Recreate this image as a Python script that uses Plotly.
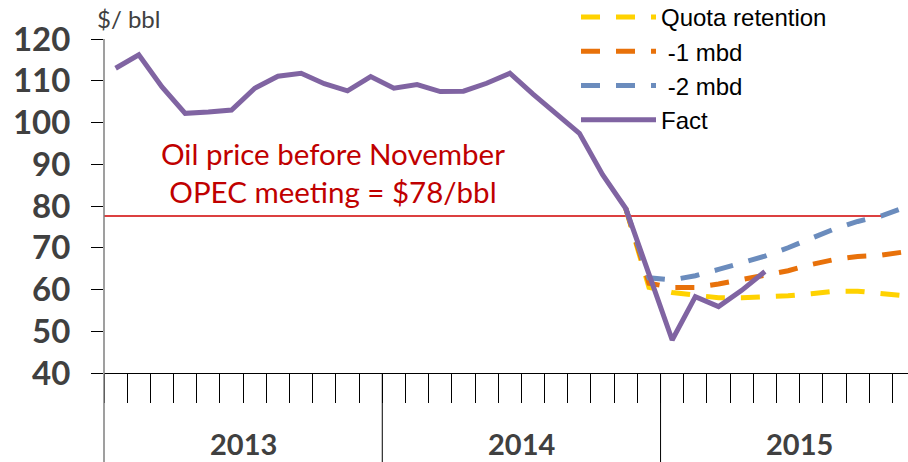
import plotly.graph_objects as go

# ---- data ----
years = ["2013", "2014", "2015"]
fact_months = list(range(29))           # Jan 2013 .. May 2015 (month index)
fact = [113.0, 116.2, 108.5, 102.2, 102.5, 103.0, 108.2, 111.1, 111.8, 109.3,
        107.6, 111.0, 108.2, 109.1, 107.4, 107.5, 109.4, 111.8, 106.8, 102.0,
        97.4, 87.5, 79.4, 63.7, 47.9, 58.3, 55.9, 59.8, 64.3]

fc_months = list(range(22, 35))         # Nov 2014 .. Nov 2015
quota = [79.4, 60.5, 59.3, 58.5, 58.0, 58.0, 58.2, 58.5, 59.0, 59.6, 59.6, 59.2, 58.5]
minus1 = [79.4, 61.5, 60.5, 60.5, 61.3, 62.3, 63.2, 64.5, 66.0, 67.2, 67.9, 68.2, 69.0]
minus2 = [79.4, 62.8, 62.3, 63.3, 64.8, 66.3, 68.0, 70.0, 72.3, 74.5, 76.3, 77.6, 79.6]

pre_meeting_price = 77.6
pre_meeting_span = [0, 33.7]

y_ticks = [40, 50, 60, 70, 80, 90, 100, 110, 120]
x_range = [0, 34.67]

def centers(ms):
    return [m + 0.5 for m in ms]

W, H = 908, 462
ML, MR, MT, MB = 104, 0, 39, 89
plot_h = H - MT - MB
plot_w = W - ML - MR

def px_x(px):
    return (px - ML) / plot_w

def px_y(py):
    return (H - MB - py) / plot_h

fig = go.Figure()

fig.add_trace(go.Scatter(x=pre_meeting_span, y=[pre_meeting_price] * 2, mode="lines",
                         line=dict(color="#D00000", width=1.6), showlegend=False,
                         hoverinfo="skip"))

dash = "19px,16px"
for name, vals, col in [("Quota retention", quota, "#FFD200"),
                        (" -1 mbd", minus1, "#E8710A"),
                        (" -2 mbd", minus2, "#6B8CBD")]:
    fig.add_trace(go.Scatter(x=centers(fc_months), y=vals, mode="lines", name=name,
                             legendgroup=name,
                             line=dict(color=col, width=5, dash=dash)))

fig.add_trace(go.Scatter(x=centers(fact_months), y=fact, mode="lines", name="Fact",
                         legendgroup="Fact",
                         line=dict(color="#8064A2", width=5)))

shapes = []
below = px_y(H)
shapes.append(dict(type="line", xref="paper", yref="paper", x0=0, x1=0, y0=below, y1=1,
                   line=dict(color="#7F7F7F", width=1.5)))
for k in range(1, len(years)):
    shapes.append(dict(type="line", xref="x", yref="paper", x0=12 * k, x1=12 * k,
                       y0=below, y1=0, line=dict(color="black", width=1)))

annotations = []
for k, yr in enumerate(years):
    annotations.append(dict(x=12 * k + 6, y=px_y(443), xref="x", yref="paper",
                            text=yr, showarrow=False, yanchor="middle",
                            font=dict(family="Lato", size=29, color="#404040", weight="bold")))
annotations.append(dict(x=px_x(95), y=px_y(19), xref="paper", yref="paper",
                        xanchor="left", yanchor="middle", text="$/ bbl", showarrow=False,
                        font=dict(family="Lato", size=24, color="#404040")))
annotations.append(dict(x=px_x(333), y=px_y(172), xref="paper",
                        yref="paper", xanchor="center", yanchor="middle", showarrow=False,
                        text="Oil price before November<br>OPEC meeting = $78/bbl",
                        font=dict(family="Lato", size=29.5, color="#C00000")))

fig.update_layout(
    width=W, height=H,
    margin=dict(l=ML, r=MR, t=MT, b=MB, autoexpand=False),
    paper_bgcolor="white", plot_bgcolor="white",
    shapes=shapes, annotations=annotations,
    legend=dict(x=px_x(576), y=px_y(-5),
                xanchor="left", yanchor="top",
                bgcolor="rgba(0,0,0,0)", font=dict(family="Liberation Sans", size=24, color="black"),
                tracegroupgap=0, itemwidth=75),
    xaxis=dict(range=x_range, tickvals=list(range(0, 35)), ticktext=[""] * 35,
               ticks="outside", ticklen=29, tickcolor="black", tickwidth=1,
               showline=True, linecolor="black", linewidth=1.2, showgrid=False,
               zeroline=False, fixedrange=True),
    yaxis=dict(range=[40, 120], tickvals=y_ticks, ticks="outside", ticklen=12,
               tickcolor="black", tickwidth=1, showline=False, showgrid=False,
               zeroline=False, ticklabelstandoff=14, fixedrange=True,
               tickfont=dict(family="Lato", size=33, color="#404040", weight="bold")),
)

fig.write_html("out.html", config={"displayModeBar": False},
               post_script="document.body.style.margin='0';")
